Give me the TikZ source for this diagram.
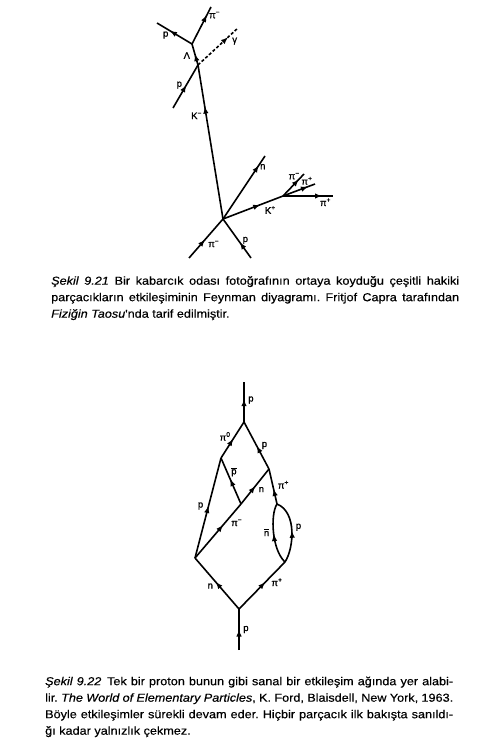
\documentclass[tikz,border=0pt]{standalone}
\usepackage{fontspec}
\setmainfont{Liberation Sans}
\newfontfamily\capfont[FakeStretch=1.1, FakeBold=0.4]{Liberation Sans}
\newfontfamily\lblfont[FakeBold=1.2]{Liberation Sans}
\usetikzlibrary{arrows.meta,decorations.markings}
\tikzset{
  fline/.style={line width=1.6pt, postaction={decorate},
    decoration={markings, mark=at position #1 with {\arrow{Latex[length=7pt,width=5.5pt]}}}},
  fline/.default=0.5,
  gline/.style={fline=#1, dash pattern=on 3pt off 2pt},
  plabel/.style={font=\lblfont\fontsize{9.5}{10}\selectfont, inner sep=1.5pt},
  ccap/.style={anchor=north west, inner sep=0pt, text width=408pt, align=justify,
    font=\capfont\fontsize{11.5}{16.5}\selectfont\frenchspacing},
}
\newcommand{\ptl}[2]{#1\textsuperscript{#2}}
\newcommand{\ptbar}[1]{$\overline{\hbox{#1}}$}

\begin{document}
\begin{tikzpicture}[x=1pt, y=-1pt]
  \useasboundingbox (0,0) rectangle (494,751);

  % Sekil 9.21
  \coordinate (va) at (192,44);
  \coordinate (vb) at (198,65);
  \coordinate (vc) at (223,219);
  \coordinate (vd) at (283,196);
  \coordinate (piA) at (211,7);
  \coordinate (pA) at (157,23);
  \coordinate (gam) at (238,28);
  \coordinate (pB) at (173,108);
  \coordinate (nA) at (265,156);
  \coordinate (piB) at (304,174);
  \coordinate (piC) at (315,184);
  \coordinate (piD) at (333,196);
  \coordinate (piE) at (189,258);
  \coordinate (pC) at (251,258);

  \draw[fline=0.78] (va) -- node[plabel, right, pos=0.78] {\ptl{π}{−}} (piA);
  \draw[fline=0.63] (va) -- node[plabel, below=1pt, pos=0.75] {p} (pA);
  \draw[fline=0.52] (vb) -- node[plabel, left=3pt, pos=0.45] {Λ} (va);
  \draw[gline=0.75] (vb) -- node[plabel, below right, pos=0.8] {γ} (gam);
  \draw[fline=0.53] (pB) -- node[plabel, left=2pt, pos=0.53] {p} (vb);
  \draw[fline=0.73] (vc) -- node[plabel, left=2pt, pos=0.67] {\ptl{K}{−}} (vb);
  \draw[fline=0.85] (vc) -- node[plabel, right, pos=0.83] {n} (nA);
  \draw[fline=0.62] (vc) -- node[plabel, below right, pos=0.66] {\ptl{K}{+}} (vd);
  \draw[fline=0.75] (vd) -- node[plabel, left, pos=0.9] {\ptl{π}{−}} (piB);
  \draw[fline=0.78] (vd) -- node[plabel, above, pos=0.75] {\ptl{π}{+}} (piC);
  \draw[fline=0.78] (vd) -- node[plabel, below, pos=0.85] {\ptl{π}{+}} (piD);
  \draw[fline=0.47] (piE) -- node[plabel, below right, pos=0.5] {\ptl{π}{−}} (vc);
  \draw[fline=0.4] (pC) -- node[plabel, right=2pt, pos=0.45] {p} (vc);

  \node[ccap] (capA) at (51,276) {\textit{Şekil 9.21}\enspace Bir kabarcık odası fotoğrafının ortaya koyduğu çeşitli hakiki\linebreak
    parçacıkların etkileşiminin Feynman diyagramı. Fritjof Capra tarafından\linebreak
    \textit{Fiziğin Taosu}'nda tarif edilmiştir.\par};

  % Sekil 9.22
  \coordinate (top) at (244,382);
  \coordinate (wt) at (244,422);
  \coordinate (wl) at (221,458);
  \coordinate (wr) at (269,469);
  \coordinate (wm) at (241,504);
  \coordinate (wlb) at (195,558);
  \coordinate (wr2) at (277,504);
  \coordinate (wr3) at (285,562);
  \coordinate (wb) at (239,609);
  \coordinate (bot) at (239,650);

  \draw[fline=0.5] (bot) -- node[plabel, right=2pt, pos=0.5] {p} (wb);
  \draw[fline=0.53] (wb) -- node[plabel, left=4pt, pos=0.45] {n} (wlb);
  \draw[fline=0.57] (wb) -- node[plabel, right=4pt, pos=0.57] {\ptl{π}{+}} (wr3);
  \draw[fline=0.52] (wlb) -- node[plabel, left=3pt, pos=0.52] {p} (wl);
  \draw[fline=0.61] (wlb) -- node[plabel, right=4pt, pos=0.65] {\ptl{π}{−}} (wm);
  \draw[fline=0.54] (wm) -- node[plabel, right=2pt, pos=0.7] {\ptbar{p}} (wl);
  \draw[fline=0.51] (wm) -- node[plabel, below right, pos=0.55] {n} (wr);
  \draw[fline=0.53] (wl) -- node[plabel, left=2pt, pos=0.6] {\ptl{π}{0}} (wt);
  \draw[fline=0.49] (wr) -- node[plabel, right=3pt, pos=0.5] {p} (wt);
  \draw[fline=0.57] (wt) -- node[plabel, right=2pt, pos=0.55] {p} (top);
  \draw[fline=0.43] (wr2) -- node[plabel, right=3pt, pos=0.55] {\ptl{π}{+}} (wr);
  \draw[fline=0.5] (wr3) .. controls (272,550) and (270,515) .. node[plabel, left=2pt, pos=0.5] {\ptbar{n}} (wr2);
  \draw[fline=0.5] (wr3) .. controls (294,548) and (297,512) .. node[plabel, right=2pt, pos=0.55] {p} (wr2);

  \node[ccap] (capB) at (45,676.5) {\textit{Şekil 9.22}\enspace Tek bir proton bunun gibi sanal bir etkileşim ağında yer alabi-\linebreak
    lir. \textit{The World of Elementary Particles}, K. Ford, Blaisdell, New York, 1963.\linebreak
    Böyle etkileşimler sürekli devam eder. Hiçbir parçacık ilk bakışta sanıldı-\linebreak
    ğı kadar yalnızlık çekmez.\par};
\end{tikzpicture}
\end{document}
